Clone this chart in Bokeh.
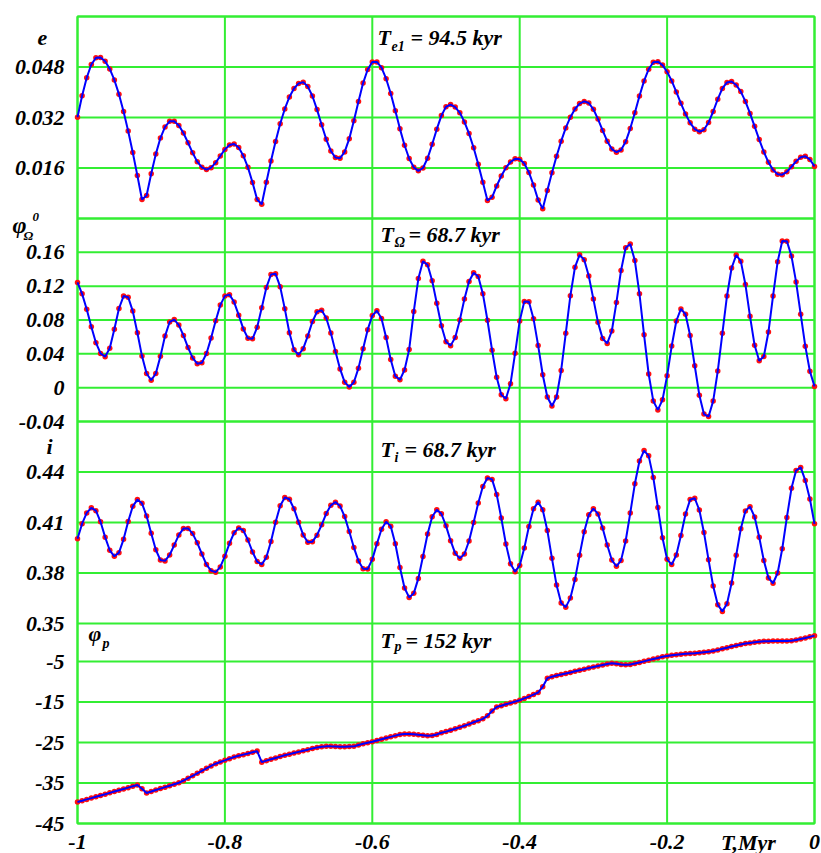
import numpy as np
from bokeh.plotting import figure
from bokeh.models import Range1d, Label
from bokeh.core.properties import value
from bokeh.embed import file_html
from bokeh.resources import INLINE

# ---------------- data ----------------
TIME = np.linspace(-1.0, 0.0, 161)   # Myr, sample grid of the curves

E_VALUES = [
    0.0321, 0.0389, 0.0446, 0.0488, 0.0509, 0.0510, 0.0498, 0.0474, 0.0439, 0.0394,
    0.0339, 0.0277, 0.0209, 0.0136, 0.0060, 0.0073, 0.0142, 0.0204, 0.0255, 0.0290,
    0.0308, 0.0308, 0.0295, 0.0271, 0.0240, 0.0208, 0.0180, 0.0162, 0.0155, 0.0161,
    0.0177, 0.0198, 0.0219, 0.0233, 0.0236, 0.0225, 0.0199, 0.0162, 0.0114, 0.0060,
    0.0045, 0.0115, 0.0182, 0.0244, 0.0300, 0.0347, 0.0385, 0.0412, 0.0428, 0.0432,
    0.0418, 0.0388, 0.0345, 0.0297, 0.0251, 0.0214, 0.0193, 0.0191, 0.0211, 0.0253,
    0.0310, 0.0371, 0.0429, 0.0472, 0.0496, 0.0496, 0.0478, 0.0443, 0.0396, 0.0341,
    0.0284, 0.0232, 0.0190, 0.0162, 0.0151, 0.0160, 0.0191, 0.0235, 0.0283, 0.0326,
    0.0354, 0.0361, 0.0353, 0.0335, 0.0306, 0.0269, 0.0224, 0.0172, 0.0115, 0.0057,
    0.0067, 0.0103, 0.0135, 0.0161, 0.0179, 0.0189, 0.0188, 0.0174, 0.0146, 0.0106,
    0.0059, 0.0031, 0.0089, 0.0145, 0.0197, 0.0245, 0.0287, 0.0321, 0.0347, 0.0364,
    0.0371, 0.0366, 0.0346, 0.0315, 0.0279, 0.0245, 0.0220, 0.0210, 0.0217, 0.0243,
    0.0285, 0.0335, 0.0388, 0.0436, 0.0473, 0.0495, 0.0497, 0.0486, 0.0465, 0.0436,
    0.0401, 0.0365, 0.0331, 0.0303, 0.0283, 0.0275, 0.0281, 0.0304, 0.0339, 0.0378,
    0.0412, 0.0431, 0.0434, 0.0423, 0.0402, 0.0371, 0.0333, 0.0292, 0.0250, 0.0211,
    0.0178, 0.0154, 0.0140, 0.0139, 0.0148, 0.0164, 0.0181, 0.0194, 0.0197, 0.0187,
    0.0165,
]

OMEGA_VALUES = [
    0.1244, 0.1109, 0.0927, 0.0721, 0.0532, 0.0405, 0.0365, 0.0465, 0.0690, 0.0936,
    0.1083, 0.1070, 0.0905, 0.0649, 0.0373, 0.0167, 0.0087, 0.0167, 0.0370, 0.0610,
    0.0777, 0.0805, 0.0740, 0.0618, 0.0474, 0.0352, 0.0283, 0.0295, 0.0404, 0.0586,
    0.0791, 0.0976, 0.1085, 0.1100, 0.1012, 0.0857, 0.0695, 0.0584, 0.0578, 0.0713,
    0.0944, 0.1183, 0.1338, 0.1346, 0.1194, 0.0934, 0.0650, 0.0447, 0.0389, 0.0461,
    0.0612, 0.0781, 0.0898, 0.0914, 0.0823, 0.0647, 0.0429, 0.0222, 0.0065, 0.0008,
    0.0064, 0.0231, 0.0459, 0.0686, 0.0852, 0.0909, 0.0818, 0.0594, 0.0332, 0.0136,
    0.0094, 0.0210, 0.0450, 0.0900, 0.1290, 0.1495, 0.1452, 0.1263, 0.0998, 0.0732,
    0.0543, 0.0497, 0.0593, 0.0799, 0.1048, 0.1255, 0.1359, 0.1313, 0.1111, 0.0797,
    0.0443, 0.0123, -0.0083, -0.0132, 0.0046, 0.0406, 0.0789, 0.1020, 0.1016, 0.0816,
    0.0500, 0.0153, -0.0111, -0.0217, -0.0110, 0.0203, 0.0642, 0.1087, 0.1425, 0.1570,
    0.1513, 0.1319, 0.1047, 0.0772, 0.0580, 0.0523, 0.0670, 0.1008, 0.1386, 0.1653,
    0.1699, 0.1502, 0.1109, 0.0625, 0.0161, -0.0157, -0.0263, -0.0144, 0.0140, 0.0492,
    0.0788, 0.0931, 0.0868, 0.0617, 0.0259, -0.0089, -0.0312, -0.0342, -0.0158, 0.0196,
    0.0643, 0.1084, 0.1415, 0.1567, 0.1496, 0.1220, 0.0843, 0.0501, 0.0318, 0.0368,
    0.0658, 0.1084, 0.1490, 0.1733, 0.1732, 0.1556, 0.1250, 0.0869, 0.0491, 0.0194,
    0.0015,
]

INCL_VALUES = [
    0.4003, 0.4093, 0.4157, 0.4187, 0.4170, 0.4104, 0.4013, 0.3935, 0.3899, 0.3921,
    0.4000, 0.4106, 0.4196, 0.4236, 0.4214, 0.4138, 0.4036, 0.3938, 0.3877, 0.3872,
    0.3907, 0.3966, 0.4026, 0.4064, 0.4065, 0.4034, 0.3979, 0.3913, 0.3850, 0.3814,
    0.3805, 0.3836, 0.3900, 0.3976, 0.4039, 0.4068, 0.4053, 0.3996, 0.3925, 0.3868,
    0.3851, 0.3893, 0.3987, 0.4101, 0.4199, 0.4249, 0.4238, 0.4182, 0.4102, 0.4026,
    0.3983, 0.3986, 0.4025, 0.4086, 0.4153, 0.4202, 0.4221, 0.4198, 0.4135, 0.4046,
    0.3951, 0.3872, 0.3825, 0.3824, 0.3881, 0.3974, 0.4060, 0.4105, 0.4078, 0.3974,
    0.3833, 0.3711, 0.3655, 0.3679, 0.3768, 0.3898, 0.4032, 0.4134, 0.4176, 0.4152,
    0.4080, 0.3992, 0.3917, 0.3887, 0.3913, 0.3990, 0.4100, 0.4216, 0.4314, 0.4364,
    0.4356, 0.4267, 0.4127, 0.3973, 0.3855, 0.3808, 0.3845, 0.3948, 0.4076, 0.4181,
    0.4221, 0.4176, 0.4053, 0.3887, 0.3728, 0.3622, 0.3597, 0.3651, 0.3762, 0.3906,
    0.4045, 0.4146, 0.4182, 0.4151, 0.4067, 0.3966, 0.3877, 0.3840, 0.3875, 0.3990,
    0.4156, 0.4330, 0.4465, 0.4527, 0.4496, 0.4368, 0.4189, 0.4009, 0.3881, 0.3850,
    0.3907, 0.4023, 0.4150, 0.4236, 0.4244, 0.4174, 0.4041, 0.3878, 0.3723, 0.3612,
    0.3572, 0.3617, 0.3740, 0.3905, 0.4063, 0.4169, 0.4194, 0.4133, 0.4012, 0.3874,
    0.3771, 0.3739, 0.3800, 0.3944, 0.4130, 0.4303, 0.4409, 0.4427, 0.4350, 0.4240,
    0.4092,
]

PERI_VALUES = [
    -39.70, -39.38, -39.05, -38.73, -38.40, -38.08, -37.76, -37.43, -37.11, -36.79,
    -36.46, -36.14, -35.81, -35.49, -36.40, -37.45, -37.10, -36.74, -36.38, -36.02,
    -35.66, -35.30, -34.94, -34.43, -33.82, -33.21, -32.60, -31.99, -31.38, -30.77,
    -30.23, -29.81, -29.40, -28.98, -28.58, -28.28, -27.99, -27.70, -27.40, -27.12,
    -29.85, -29.47, -29.14, -28.81, -28.48, -28.14, -27.87, -27.59, -27.31, -27.03,
    -26.76, -26.48, -26.20, -26.05, -25.95, -25.95, -26.00, -26.05, -26.05, -26.00,
    -25.95, -25.60, -25.30, -25.05, -24.80, -24.50, -24.20, -23.90, -23.60, -23.30,
    -23.00, -22.90, -22.90, -22.95, -23.10, -23.20, -23.30, -23.25, -23.00, -22.60,
    -22.30, -21.95, -21.60, -21.25, -20.85, -20.45, -20.00, -19.60, -19.15, -18.40,
    -17.20, -16.20, -15.90, -15.55, -15.25, -14.90, -14.55, -14.10, -13.65, -13.15,
    -12.65, -11.20, -9.10, -8.75, -8.45, -8.20, -7.95, -7.70, -7.40, -7.15,
    -6.90, -6.60, -6.35, -6.10, -5.85, -5.60, -5.40, -5.55, -5.75, -5.80,
    -5.70, -5.50, -5.25, -4.95, -4.65, -4.35, -4.10, -3.80, -3.60, -3.45,
    -3.30, -3.20, -3.10, -3.00, -2.95, -2.85, -2.70, -2.55, -2.40, -2.15,
    -1.85, -1.60, -1.30, -1.05, -0.80, -0.55, -0.40, -0.25, -0.10, 0.00,
    0.00, 0.05, 0.05, 0.10, 0.10, 0.15, 0.30, 0.55, 0.80, 1.10,
    1.40,
]

X_TICKS = [-1.0, -0.8, -0.6, -0.4, -0.2, 0.0]
X_TICK_LABELS = ["-1", "-0.8", "-0.6", "-0.4", "-0.2", "0"]
X_UNIT_LABEL = "T,Myr"

E_RANGE = (0.0, 0.064)
E_GRID = [0.0, 0.016, 0.032, 0.048, 0.064]
E_TICKS = [0.016, 0.032, 0.048]
E_TICK_LABELS = ["0.016", "0.032", "0.048"]

OM_RANGE = (-0.04, 0.2)
OM_GRID = [-0.04, 0.0, 0.04, 0.08, 0.12, 0.16, 0.2]
OM_TICKS = [-0.04, 0.0, 0.04, 0.08, 0.12, 0.16]
OM_TICK_LABELS = ["-0.04", "0", "0.04", "0.08", "0.12", "0.16"]

INC_RANGE = (0.35, 0.47)
INC_GRID = [0.35, 0.38, 0.41, 0.44, 0.47]
INC_TICKS = [0.35, 0.38, 0.41, 0.44]
INC_TICK_LABELS = ["0.35", "0.38", "0.41", "0.44"]

PER_RANGE = (-45.0, 4.4)
PER_GRID = [-45.0, -35.0, -25.0, -15.0, -5.0]
PER_TICKS = [-45.0, -35.0, -25.0, -15.0, -5.0]
PER_TICK_LABELS = ["-45", "-35", "-25", "-15", "-5"]

PERIOD_SUBSCRIPTS = ["e1", "\u03a9", "i", "p"]
PERIOD_TEXTS = ["= 94.5 kyr", "= 68.7 kyr", "= 68.7 kyr", "= 152 kyr"]

# ---------------- styling / layout ----------------
FONT = "Liberation Serif"
GREEN = "#33ee33"
FULL = 807.0                       # stacked-panel coordinate (page pixels)
BANDS = [(605.0, 807.0), (402.0, 605.0), (200.0, 402.0), (0.0, 200.0)]
W, H = 821, 853


def px(xp):   # page x -> data x
    return (xp - 77.0) / 737.0 - 1.0


def py(yp):   # page y -> stacked coordinate
    return 823.0 - yp


# the frame spans the whole canvas, so that no text is clipped
p = figure(width=W, height=H,
           x_range=Range1d(px(0.0), px(W)), y_range=Range1d(py(H), py(0.0)),
           x_axis_location=None, y_axis_location=None,
           output_backend="svg", toolbar_location=None,
           min_border_left=0, min_border_right=0, min_border_top=0, min_border_bottom=0)
p.background_fill_color = "white"
p.border_fill_color = "white"
p.outline_line_color = None
p.grid.visible = False

panels = [
    (E_VALUES, E_RANGE, E_GRID, E_TICKS, E_TICK_LABELS),
    (OMEGA_VALUES, OM_RANGE, OM_GRID, OM_TICKS, OM_TICK_LABELS),
    (INCL_VALUES, INC_RANGE, INC_GRID, INC_TICKS, INC_TICK_LABELS),
    (PERI_VALUES, PER_RANGE, PER_GRID, PER_TICKS, PER_TICK_LABELS),
]

grid_pos = []
tick_pos = []
tick_txt = []
names = []
for i, (vals, (lo, hi), grid, ticks, labels) in enumerate(panels):
    b0, b1 = BANDS[i]
    scale = (hi - lo) / (b1 - b0)
    base = lo - b0 * scale
    name = f"panel{i}"
    # each panel's own value range, aligned with the stacked coordinate
    p.extra_y_ranges[name] = Range1d(base + py(H) * scale, base + py(0.0) * scale)
    names.append(name)
    grid_pos += [b0 + (v - lo) / scale for v in grid]
    for v, lab in zip(ticks, labels):
        tick_pos.append(b0 + (v - lo) / scale)
        tick_txt.append(lab)

# grid lines (only across the plotting area) and panel frames
p.segment(x0=-1.0, x1=0.0, y0=grid_pos, y1=grid_pos, line_color=GREEN, line_width=2)
p.segment(x0=X_TICKS, x1=X_TICKS, y0=0.0, y1=FULL, line_color=GREEN, line_width=2)
p.quad(left=-1.0, right=0.0, bottom=0.0, top=FULL, fill_color=None,
       line_color=GREEN, line_width=2)

for (vals, *_), name in zip(panels, names):
    p.scatter(TIME, vals, y_range_name=name, size=5.5, fill_color="#ff1010",
              line_color=None)
    p.line(TIME, vals, y_range_name=name, line_color="#0000ff", line_width=2)

TXT = dict(text_font=value(FONT), text_font_style="bold italic", text_font_size="22px",
           text_color="black")

# y tick labels of all panels
p.text(x=px(64.0), y=tick_pos, text=tick_txt, text_align="right", text_baseline="middle",
       **TXT)

# x tick labels and the time unit
x_unit_pos = px(748.0)
p.text(x=X_TICKS + [x_unit_pos], y=py(841.5), text=X_TICK_LABELS + [X_UNIT_LABEL],
       text_align="center", text_baseline="middle", **TXT)


def add_text(xp, ymid, text, size):
    lab = Label(x=px(xp), y=py(ymid), text=text)
    lab.text_font = FONT
    lab.text_font_size = f"{size}px"
    lab.text_font_style = "bold italic"
    lab.text_color = "black"
    lab.text_align = "left"
    lab.text_baseline = "middle"
    p.add_layout(lab)


# panel titles  T_x = ... kyr   (positions are vertical text centres)
title_geom = [  # (T left, sub left, rest left, centre, sub centre)
    (377, 391, 410, 36.5, 45.2),
    (380, 394, 408, 234.0, 242.2),
    (380, 394, 404, 448.5, 457.2),
    (380, 394, 405, 639.5, 646.2),
]
for (tx, sx, rx, cy, sy), sub, txt in zip(title_geom, PERIOD_SUBSCRIPTS, PERIOD_TEXTS):
    add_text(tx, cy, "T", 22)
    add_text(sx, sy, sub, 14)
    add_text(rx, cy, txt, 22)

# variable names
add_text(37, 37.5, "e", 22)
add_text(12, 224.5, "\u03c6", 24)
add_text(23, 234.6, "\u03a9", 13)
add_text(32, 216.6, "0", 13)
add_text(46, 445.5, "i", 22)
add_text(88, 632.5, "\u03c6", 22)
add_text(102, 643.2, "p", 14)

open("out.html", "w").write(file_html(p, INLINE))
